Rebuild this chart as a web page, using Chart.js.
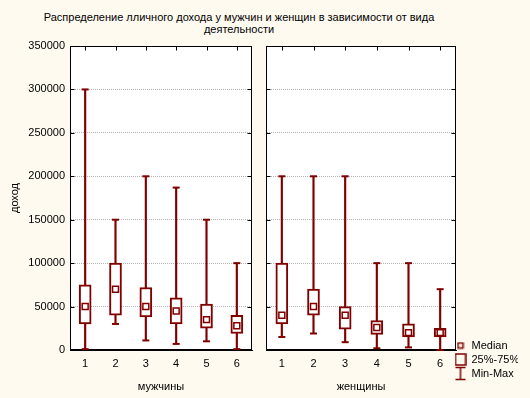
<!DOCTYPE html>
<html lang="ru">
<head>
<meta charset="utf-8">
<script src="https://cdn.jsdelivr.net/npm/chart.js@4.4.0/dist/chart.umd.min.js"></script>
<style>
    html, body { margin: 0; padding: 0; background: #fffaf0; }
    #wrap { position: relative; width: 530px; height: 398px; overflow: hidden; font-family: "Liberation Sans", Arial, sans-serif; }
    #titulo { position: absolute; left: 0; top: 11px; width: 478px; text-align: center; font-size: 11px; line-height: 12px; color: #000; }
    .panel { position: absolute; top: 0; height: 398px; }
    #p1 { left: 0; width: 258px; }
    #p2 { left: 258px; width: 272px; }
</style>
</head>
<body>
<div id="wrap">
    <div id="titulo">Распределение лличного дохода у мужчин и женщин в зависимости от вида<br>деятельности</div>
    <div class="panel" id="p1"><canvas id="graficaMuzh"></canvas></div>
    <div class="panel" id="p2"><canvas id="graficaZhen"></canvas></div>
</div>
<script>
// === Datos ===
const categorias = ['1', '2', '3', '4', '5', '6'];

const muzhMin = [1000, 30000, 11000, 7000, 10000, 1000];
const muzhQ1 = [30000, 40000, 38000, 30000, 25000, 19000];
const muzhMediana = [50000, 70000, 50000, 45000, 35000, 28000];
const muzhQ3 = [75000, 100000, 72000, 60000, 53000, 40000];
const muzhMax = [300000, 150000, 200000, 187000, 150000, 100000];

const zhenMin = [15000, 19000, 9000, 2000, 3000, 0];
const zhenQ1 = [30000, 40000, 24000, 18000, 15000, 15000];
const zhenMediana = [40000, 50000, 40000, 26000, 20000, 20000];
const zhenQ3 = [100000, 70000, 50000, 34000, 30000, 25000];
const zhenMax = [200000, 200000, 200000, 100000, 100000, 70000];

const ejeYMax = 350000;
const ejeYPaso = 50000;

const ROJO = '#800000';

Chart.defaults.font.family = "'Liberation Sans', Arial, sans-serif";
Chart.defaults.font.size = 11;
Chart.defaults.color = '#000';

// fondo blanco del area + marco negro con marcas hacia dentro
const marco = {
    id: 'marco',
    beforeDraw(chart) {
        const a = chart.chartArea;
        chart.ctx.save();
        chart.ctx.fillStyle = '#fff';
        chart.ctx.fillRect(a.left, a.top, a.right - a.left, a.bottom - a.top);
        chart.ctx.restore();
    },
    beforeDatasetsDraw(chart) {
        const { ctx, chartArea: a, scales } = chart;
        const L = Math.round(a.left) + 0.5, R = Math.round(a.right) - 0.5;
        const T = Math.round(a.top) + 0.5, B = Math.round(a.bottom) - 0.5;
        ctx.save();
        ctx.strokeStyle = '#000';
        ctx.lineWidth = 1;
        ctx.strokeRect(L, T, R - L, B - T);
        ctx.beginPath();
        scales.x.ticks.forEach((t, i) => {
            const x = Math.round(scales.x.getPixelForTick(i)) + 0.5;
            ctx.moveTo(x, T);
            ctx.lineTo(x, T + 4);
        });
        scales.y.ticks.forEach((t, i) => {
            const y = Math.round(scales.y.getPixelForTick(i)) + 0.5;
            ctx.moveTo(L, y);
            ctx.lineTo(L + 4, y);
            ctx.moveTo(R, y);
            ctx.lineTo(R - 4, y);
        });
        ctx.stroke();
        ctx.restore();
    }
};

// la leyenda va un poco mas arriba y a la izquierda
const ajusteLeyenda = {
    id: 'ajusteLeyenda',
    afterLayout(chart) {
        const l = chart.legend;
        if (!l || !l.options.display) return;
        l.top -= 16;
        l.bottom -= 16;
        l.left -= 4;
        l.right -= 4;
    }
};

// iconos de la leyenda
function icono(w, h, dibujar) {
    const c = document.createElement('canvas');
    c.width = w;
    c.height = h;
    const g = c.getContext('2d');
    g.strokeStyle = ROJO;
    g.lineWidth = 1.5;
    dibujar(g);
    return c;
}
const iconoMediana = icono(8, 8, g => g.strokeRect(1.5, 1.5, 5, 5));
const iconoCaja = icono(12, 13, g => g.strokeRect(1, 1, 10, 11));
const iconoMinMax = icono(12, 15, g => {
    g.beginPath();
    g.moveTo(1, 1.5); g.lineTo(11, 1.5);
    g.moveTo(6, 1.5); g.lineTo(6, 13.5);
    g.moveTo(1, 13.5); g.lineTo(11, 13.5);
    g.stroke();
});

function crearPanel(id, mins, q1, mediana, q3, maxs, titulo, primero) {
    return new Chart(document.getElementById(id), {
        type: 'bar',
        data: {
            labels: categorias,
            datasets: [
                {
                    label: 'Min-Max',
                    data: mins.map((v, i) => [v, maxs[i]]),
                    backgroundColor: ROJO,
                    barThickness: 1.5,
                    grouped: false,
                    order: 4
                },
                {
                    label: '25%-75%',
                    data: q1.map((v, i) => [v, q3[i]]),
                    backgroundColor: '#fff',
                    borderColor: ROJO,
                    borderWidth: 2,
                    borderSkipped: false,
                    barThickness: 12,
                    grouped: false,
                    order: 3
                },
                {
                    type: 'line',
                    label: 'min',
                    data: mins,
                    showLine: false,
                    pointStyle: 'line',
                    pointRadius: 3.5,
                    pointBorderWidth: 2,
                    pointBorderColor: ROJO,
                    clip: false,
                    order: 2
                },
                {
                    type: 'line',
                    label: 'max',
                    data: maxs,
                    showLine: false,
                    pointStyle: 'line',
                    pointRadius: 3.5,
                    pointBorderWidth: 2,
                    pointBorderColor: ROJO,
                    clip: false,
                    order: 2
                },
                {
                    type: 'line',
                    label: 'Median',
                    data: mediana,
                    showLine: false,
                    pointStyle: 'rect',
                    pointRadius: 4.2,
                    pointBorderWidth: 1.5,
                    pointBackgroundColor: '#fff',
                    pointBorderColor: ROJO,
                    order: 1
                }
            ]
        },
        options: {
            responsive: true,
            maintainAspectRatio: false,
            animation: false,
            layout: {
                padding: { top: 46, right: primero ? 5 : 8, left: 0, bottom: 0 }
            },
            plugins: {
                tooltip: { enabled: false },
                legend: {
                    display: !primero,
                    position: 'right',
                    align: 'end',
                    labels: {
                        usePointStyle: true,
                        padding: 3,
                        color: '#000',
                        font: { size: 11 },
                        generateLabels: () => [
                            { text: 'Median', pointStyle: iconoMediana, fontColor: '#000', hidden: false, lineWidth: 0 },
                            { text: '25%-75%', pointStyle: iconoCaja, fontColor: '#000', hidden: false, lineWidth: 0 },
                            { text: 'Min-Max', pointStyle: iconoMinMax, fontColor: '#000', hidden: false, lineWidth: 0 }
                        ]
                    }
                }
            },
            scales: {
                x: {
                    grid: { display: false, drawTicks: false },
                    border: { display: true, color: '#000' },
                    ticks: { padding: 7, color: '#000' },
                    title: { display: true, text: titulo, color: '#000', padding: { top: 4, bottom: 4 } },
                    afterFit(s) { s.height = 48; }
                },
                y: {
                    min: 0,
                    max: ejeYMax,
                    ticks: {
                        display: primero,
                        stepSize: ejeYPaso,
                        padding: 5,
                        color: '#000',
                        callback: v => String(v)
                    },
                    grid: { color: '#b4b4b4', drawTicks: false },
                    border: { display: true, color: '#000', dash: [1, 1] },
                    title: { display: primero, text: 'доход', color: '#000', padding: { top: 8, bottom: 0 } },
                    afterFit(s) { s.width = primero ? 70 : 8; }
                }
            }
        },
        plugins: [marco, ajusteLeyenda]
    });
}

// === Paneles ===
crearPanel('graficaMuzh', muzhMin, muzhQ1, muzhMediana, muzhQ3, muzhMax, 'мужчины', true);
crearPanel('graficaZhen', zhenMin, zhenQ1, zhenMediana, zhenQ3, zhenMax, 'женщины', false);
</script>
</body>
</html>
